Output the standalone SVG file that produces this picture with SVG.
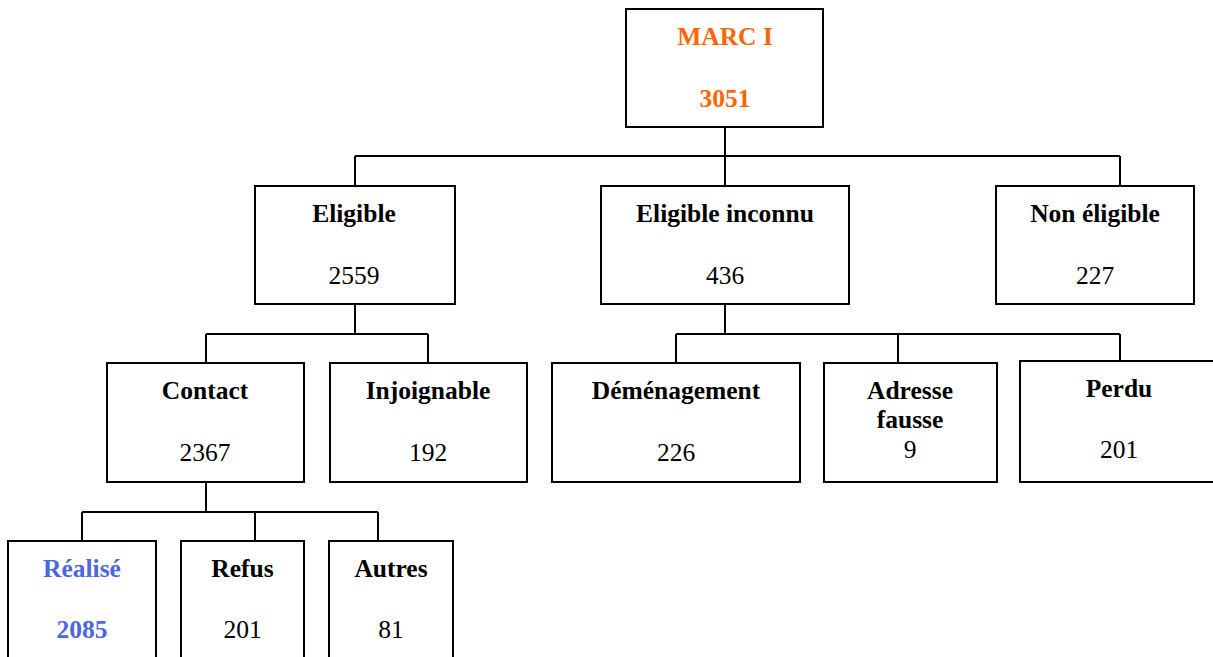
<svg xmlns="http://www.w3.org/2000/svg" width="1213" height="657" viewBox="0 0 1213 657">
<style>
.box{fill:#fff;stroke:#000;stroke-width:2}
.con{fill:none;stroke:#000;stroke-width:2}
text{font-family:'Liberation Serif','Times New Roman',Times,'DejaVu Serif',serif;font-size:25.5px;text-anchor:middle;fill:#000}
.b{font-weight:bold}
.or{fill:#FF6600}
.bl{fill:#4A66E0}
</style>
<rect width="1213" height="657" fill="#fff"/>
<g id="connectors">
<path class="con" d="M725 127V186M355 156H1120M355 156V186M1120 156V186"/>
<path class="con" d="M355 304V334M206 334H428M206 334V363M428 334V363"/>
<path class="con" d="M725 304V334M676 334H1120M676 334V363M898 334V363M1120 334V361"/>
<path class="con" d="M206 482V512M82 512H378M82 512V541M255 512V541M378 512V541"/>
</g>
<g id="marc"><rect class="box" x="626" y="9" width="197" height="118"/><text class="b or" x="725" y="45">MARC I</text><text class="b or" x="725" y="107">3051</text></g>
<g id="eligible"><rect class="box" x="255" y="186" width="200" height="118"/><text class="b" x="354" y="222">Eligible</text><text x="354" y="284">2559</text></g>
<g id="eligible-inconnu"><rect class="box" x="601" y="186" width="248" height="118"/><text class="b" x="725" y="222">Eligible inconnu</text><text x="725" y="284">436</text></g>
<g id="non-eligible"><rect class="box" x="996" y="186" width="198" height="118"/><text class="b" x="1095" y="222">Non éligible</text><text x="1095" y="284">227</text></g>
<g id="contact"><rect class="box" x="107" y="363" width="197" height="119"/><text class="b" x="205" y="399">Contact</text><text x="205" y="461">2367</text></g>
<g id="injoignable"><rect class="box" x="330" y="363" width="197" height="119"/><text class="b" x="428" y="399">Injoignable</text><text x="428" y="461">192</text></g>
<g id="demenagement"><rect class="box" x="552" y="363" width="248" height="119"/><text class="b" x="676" y="399">Déménagement</text><text x="676" y="461">226</text></g>
<g id="adresse-fausse"><rect class="box" x="824" y="363" width="173" height="119"/><text class="b" x="910" y="399">Adresse</text><text class="b" x="910" y="428">fausse</text><text x="910" y="458">9</text></g>
<g id="perdu"><rect class="box" x="1020" y="361" width="200" height="121"/><text class="b" x="1119" y="397">Perdu</text><text x="1119" y="458">201</text></g>
<g id="realise"><rect class="box" x="8" y="541" width="148" height="130"/><text class="b bl" x="82" y="577">Réalisé</text><text class="b bl" x="82" y="638">2085</text></g>
<g id="refus"><rect class="box" x="181" y="541" width="123" height="130"/><text class="b" x="242.5" y="577">Refus</text><text x="242.5" y="638">201</text></g>
<g id="autres"><rect class="box" x="329" y="541" width="124" height="130"/><text class="b" x="391" y="577">Autres</text><text x="391" y="638">81</text></g>
</svg>
